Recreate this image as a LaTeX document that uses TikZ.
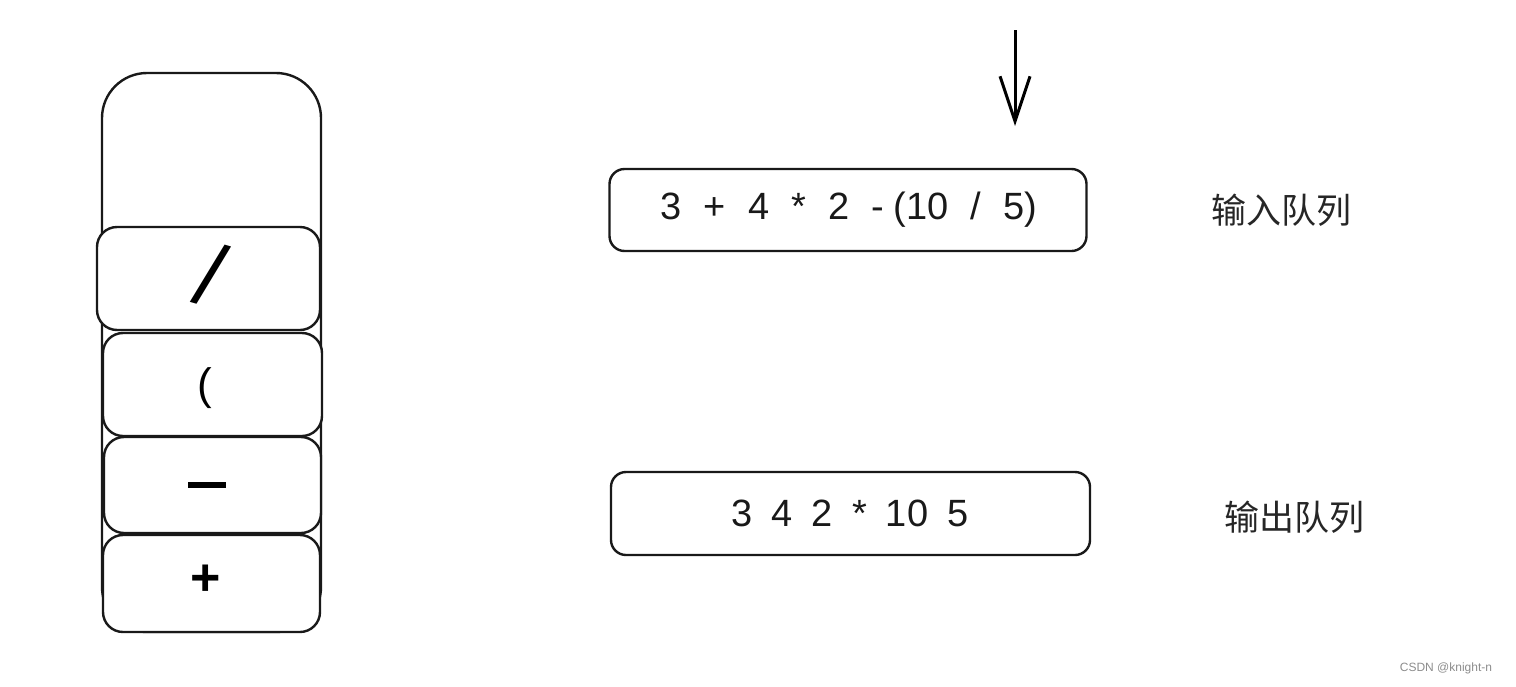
\documentclass[tikz,border=0pt]{standalone}
\usepackage{fontspec}
\setmainfont{Liberation Sans}
\newfontfamily\cjk{Noto Sans CJK SC}
\usetikzlibrary{arrows.meta}
\newcommand{\gp}{\hspace{22pt}}
\newcommand{\gq}{\hspace{19pt}}
\begin{document}
\begin{tikzpicture}[x=1pt,y=-1pt,
  box/.style={draw=black!90,line width=2.4pt,inner sep=0pt,outer sep=0pt},
  cell/.style={box,rounded corners=20pt,fill=white,minimum width=219pt,minimum height=100pt},
  seq/.style={box,rounded corners=15pt,minimum width=477pt,minimum height=82pt},
  sym/.style={font=\fontsize{52}{56}\selectfont\bfseries},
  expr/.style={font=\fontsize{38}{42}\selectfont,text=black!90},
  lbl/.style={font=\cjk\fontsize{35}{40}\selectfont,text=black!85},
  arr/.style={line width=3pt,-{Straight Barb[length=45pt,width=30pt,line width=3pt]}}]
\useasboundingbox (0,0) rectangle (1516,686);
% stack container
\node[box,rounded corners=45pt,minimum width=219pt,minimum height=559pt] (stack) at (211.5,352.5) {};
% stack cells
\node[cell,minimum width=223pt,minimum height=103pt] (c1) at (208.5,278.5) {};
\node[cell,minimum height=103pt] (c2) at (212.5,384.5) {};
\node[cell,minimum width=217pt,minimum height=96pt] (c3) at (212.5,485) {};
\node[cell,minimum width=217pt,minimum height=97pt] (c4) at (211.5,583.5) {};
\node[font=\fontsize{88}{92}\selectfont,rotate=-16] (s1) at (211,275) {/};
\node[font=\fontsize{44}{48}\selectfont] (s2) at (205,388) {(};
\node[sym] (s3) at (207,485) {\rule{38pt}{6pt}};
\node[sym] (s4) at (206,580) {+};
% queues
\node[seq] (inq) at (848,210) {};
\node[expr] (intxt) at (849,210) {3\gp+\gp4\gp*\gp2\gp-\hspace{10pt}(10\gp/\gp5)};
\node[seq,minimum width=479pt,minimum height=83pt] (outq) at (850.5,513.5) {};
\node[expr] (outtxt) at (850,513) {3\gq4\gq2\gq*\gq10\gq5};
\node[lbl] (inl) at (1281,210) {输入队列};
\node[lbl] (outl) at (1294,517) {输出队列};
% arrow
\coordinate (atop) at (1015,30);
\coordinate (abot) at (1015,126);
\draw[arr] (atop) -- (abot);
% watermark
\node[font=\fontsize{12}{14}\selectfont,text=black!45] (wm) at (1446,668) {CSDN @knight-n};
\end{tikzpicture}
\end{document}
